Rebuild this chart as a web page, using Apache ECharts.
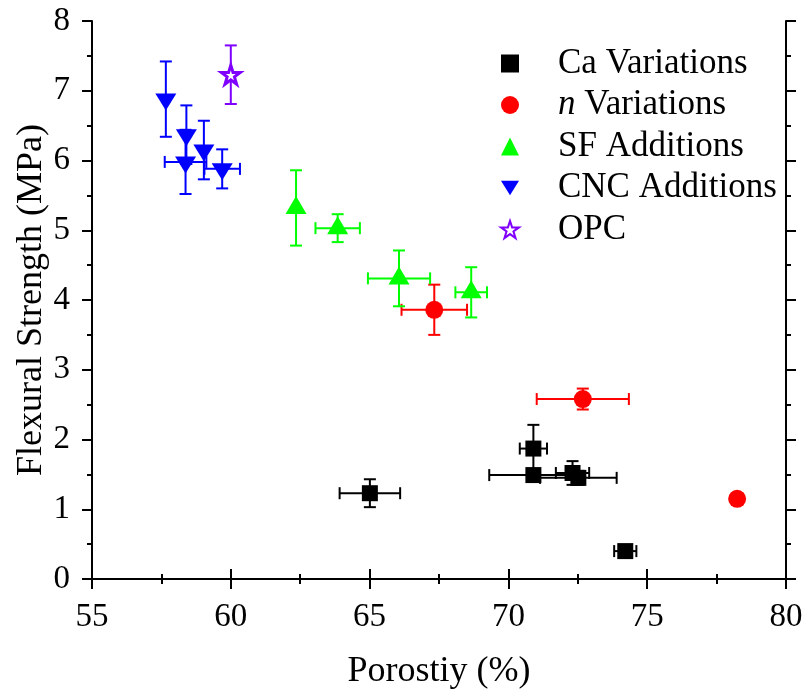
<!DOCTYPE html>
<html>
<head>
<meta charset="utf-8">
<script src="https://cdn.jsdelivr.net/npm/echarts@6/dist/echarts.min.js"></script>
<style>
  html, body { margin: 0; padding: 0; background: #fff; }
  #chart { width: 808px; height: 689px; }
</style>
</head>
<body>
<div id="chart"></div>
<script>
'use strict';

// Ca Variations
var caX    = [65.01, 70.90, 70.90, 72.31, 72.52, 74.21];
var caY    = [1.23, 1.87, 1.49, 1.52, 1.45, 0.40];
var caXErr = [1.09, 0.49, 1.59, 0.60, 1.38, 0.40];
var caYErr = [0.20, 0.34, 0.08, 0.17, 0.10, 0.05];

// n Variations
var nX    = [67.33, 72.68, 78.24];
var nY    = [3.86, 2.58, 1.15];
var nXErr = [1.18, 1.66, 0];
var nYErr = [0.36, 0.15, 0];

// SF Additions
var sfX    = [62.35, 63.85, 66.06, 68.66];
var sfY    = [5.32, 5.03, 4.31, 4.11];
var sfXErr = [0, 0.80, 1.12, 0.57];
var sfYErr = [0.54, 0.20, 0.40, 0.36];

// CNC Additions
var cncX    = [57.66, 58.40, 58.37, 59.03, 59.69];
var cncY    = [6.88, 6.37, 5.98, 6.15, 5.88];
var cncXErr = [0, 0, 0.75, 0, 0.64];
var cncYErr = [0.54, 0.42, 0.46, 0.42, 0.28];

// OPC
var opcX    = [60.0];
var opcY    = [7.23];
var opcXErr = [0];
var opcYErr = [0.42];

var names = ['Ca Variations', 'n Variations', 'SF Additions', 'CNC Additions', 'OPC'];

var FONT = "'Liberation Serif', 'Times New Roman', serif";
var starPath = 'path://M50,2 L61,36 L97,36 L68,57 L79,92 L50,71 L21,92 L32,57 L3,36 L39,36 Z';
var downTri = 'path://M0,0 L21,0 L10.5,17 Z';

function pts(xs, ys){
	return xs.map(function(x, i){ return [x, ys[i]]; });
}
function errPts(xs, ys, ex, ey){
	return xs.map(function(x, i){ return [x, ys[i], ex[i], ey[i]]; });
}

var CAP = 6;
function errRender(color){
	return function(params, api){
		var x = api.value(0), y = api.value(1), ex = api.value(2), ey = api.value(3);
		var kids = [];
		var st = {stroke: color, lineWidth: 2};
		if(ey > 0){
			var t = api.coord([x, y + ey]), b = api.coord([x, y - ey]);
			kids.push({type:'line', shape:{x1:t[0], y1:t[1], x2:b[0], y2:b[1]}, style: st});
			kids.push({type:'line', shape:{x1:t[0]-CAP, y1:t[1], x2:t[0]+CAP, y2:t[1]}, style: st});
			kids.push({type:'line', shape:{x1:b[0]-CAP, y1:b[1], x2:b[0]+CAP, y2:b[1]}, style: st});
		}
		if(ex > 0){
			var l = api.coord([x - ex, y]), r = api.coord([x + ex, y]);
			kids.push({type:'line', shape:{x1:l[0], y1:l[1], x2:r[0], y2:r[1]}, style: st});
			kids.push({type:'line', shape:{x1:l[0], y1:l[1]-CAP, x2:l[0], y2:l[1]+CAP}, style: st});
			kids.push({type:'line', shape:{x1:r[0], y1:r[1]-CAP, x2:r[0], y2:r[1]+CAP}, style: st});
		}
		return {type:'group', children: kids};
	};
}

function errSeries(name, data, color){
	return {
		name: name + ' err',
		type: 'custom',
		renderItem: errRender(color),
		data: data,
		encode: {x: 0, y: 1},
		z: 2,
		silent: true
	};
}

var axisCommon = {
	axisLine: {lineStyle: {color: '#000', width: 2}},
	axisTick: {inside: false, length: 10, lineStyle: {color: '#000', width: 2}},
	minorTick: {show: true, splitNumber: 2, length: 5, lineStyle: {color: '#000', width: 2}},
	splitLine: {show: false}
};

function mk(extra){
	var o = JSON.parse(JSON.stringify(axisCommon));
	for(var k in extra) o[k] = extra[k];
	return o;
}

var option = {
	animation: false,
	backgroundColor: '#fff',
	textStyle: {fontFamily: FONT},
	grid: {left: 92, right: 22, top: 21, bottom: 110, outerBoundsMode: 'none', containLabel: false},
	legend: {
		orient: 'vertical',
		left: 495,
		top: 41,
		itemWidth: 18,
		itemHeight: 18,
		itemGap: 6.5,
		data: names,
		formatter: function(name){
			if(name === 'n Variations') return '{g|}{i|n}{t| Variations}';
			return '{g|}{t|' + name + '}';
		},
		textStyle: {
			fontFamily: FONT,
			fontSize: 35,
			color: '#000',
			rich: {
				g: {width: 34, fontSize: 35, lineHeight: 32},
				t: {fontFamily: FONT, fontSize: 35, color: '#000', lineHeight: 32},
				i: {fontFamily: FONT, fontStyle: 'italic', fontSize: 35, color: '#000', lineHeight: 32}
			}
		}
	},
	xAxis: [
		mk({
			type: 'value', min: 55, max: 80, interval: 5, position: 'bottom',
			name: 'Porostiy (%)', nameLocation: 'middle', nameGap: 75,
			nameTextStyle: {fontFamily: FONT, fontSize: 36, color: '#000'},
			axisLabel: {fontFamily: FONT, fontSize: 33, color: '#000', margin: 22}
		}),
		mk({
			type: 'value', min: 55, max: 80, interval: 5, position: 'top',
			axisLabel: {show: false}
		})
	],
	yAxis: [
		mk({
			type: 'value', min: 0, max: 8, interval: 1, position: 'left',
			name: 'Flexural Strength (MPa)', nameLocation: 'middle', nameGap: 42,
			nameMoveOverlap: false,
			nameTextStyle: {fontFamily: FONT, fontSize: 36, color: '#000'},
			axisLabel: {fontFamily: FONT, fontSize: 33, color: '#000', margin: 22}
		}),
		mk({
			type: 'value', min: 0, max: 8, interval: 1, position: 'right',
			axisLabel: {show: false}
		})
	],
	series: [
		errSeries('Ca Variations', errPts(caX, caY, caXErr, caYErr), '#000'),
		errSeries('n Variations', errPts(nX, nY, nXErr, nYErr), '#ff0000'),
		errSeries('SF Additions', errPts(sfX, sfY, sfXErr, sfYErr), '#00ff00'),
		errSeries('CNC Additions', errPts(cncX, cncY, cncXErr, cncYErr), '#0000ff'),
		errSeries('OPC', errPts(opcX, opcY, opcXErr, opcYErr), '#8000ff'),
		{
			name: 'Ca Variations', type: 'scatter', data: pts(caX, caY),
			symbol: 'rect', symbolSize: 16, z: 3,
			itemStyle: {color: '#000', opacity: 1}
		},
		{
			name: 'n Variations', type: 'scatter', data: pts(nX, nY),
			symbol: 'circle', symbolSize: 18, z: 3,
			itemStyle: {color: '#ff0000', opacity: 1}
		},
		{
			name: 'SF Additions', type: 'scatter', data: pts(sfX, sfY),
			symbol: 'triangle', symbolSize: [21, 18], symbolOffset: [0, -3], z: 3,
			itemStyle: {color: '#00ff00', opacity: 1}
		},
		{
			name: 'CNC Additions', type: 'scatter', data: pts(cncX, cncY),
			symbol: downTri, symbolSize: [21, 17], symbolOffset: [0, 3], z: 3,
			itemStyle: {color: '#0000ff', opacity: 1}
		},
		{
			name: 'OPC', type: 'scatter', data: pts(opcX, opcY),
			symbol: starPath, symbolSize: 19, z: 3,
			itemStyle: {color: '#fff', borderColor: '#8000ff', borderWidth: 3, opacity: 1}
		}
	]
};

var myChart = echarts.init(document.getElementById('chart'));
myChart.setOption(option);
</script>
</body>
</html>
